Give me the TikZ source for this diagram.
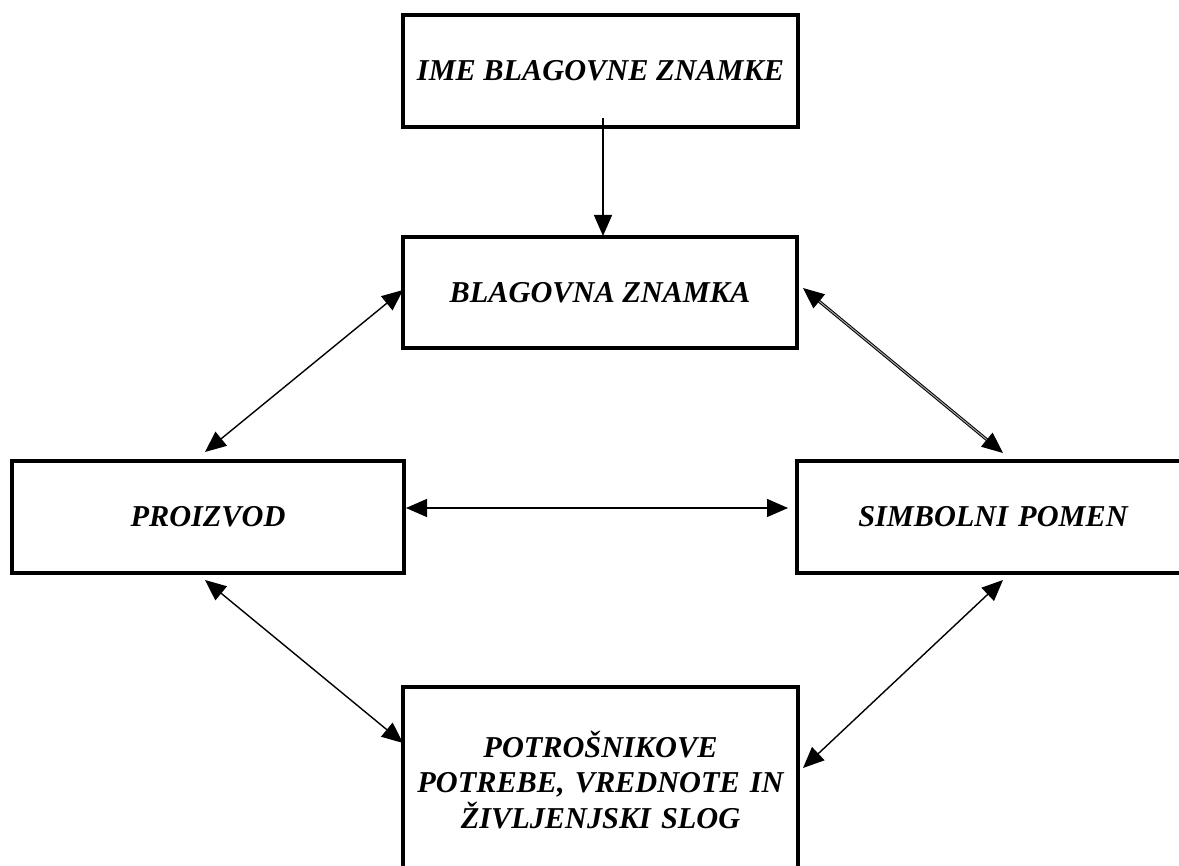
\documentclass[tikz,border=0pt]{standalone}
\usepackage{fontspec}
\setmainfont{Liberation Serif}
\usetikzlibrary{arrows.meta}
\begin{document}
\begin{tikzpicture}[x=1pt,y=-1pt,
  box/.style={draw,line width=4.2pt,inner sep=0pt,font=\fontsize{30.3}{35.5}\selectfont\bfseries\itshape,align=center},
  conn/.style={line width=1.4pt,{Triangle[length=21pt,width=18pt]}-{Triangle[length=21pt,width=18pt]}},
  oneway/.style={line width=1.4pt,-{Triangle[length=21pt,width=18pt]}},
  dconn/.style={line width=1pt,double=gray!70,double distance=1pt,{Triangle[length=21pt,width=18pt]}-{Triangle[length=21pt,width=18pt]}}]
\useasboundingbox (0,0) rectangle (1179,866);
\clip (0,0) rectangle (1179,866);
\fill[white] (0,0) rectangle (1179,866);
\node[box,minimum width=395pt,minimum height=112pt] (ime) at (600.5,71) {IME BLAGOVNE ZNAMKE};
\node[box,minimum width=394pt,minimum height=111pt] (bz) at (600,292.5) {BLAGOVNA ZNAMKA};
\node[box,minimum width=392pt,minimum height=112pt] (pr) at (208,517) {PROIZVOD};
\node[box,minimum width=392pt,minimum height=112pt,text width=392pt] (sp) at (993,517) {SIMBOLNI POMEN};
\node[box,minimum width=395pt,minimum height=186pt,text width=390pt] (pv) at (600.5,780) {POTROŠNIKOVE\\POTREBE, VREDNOTE IN\\ŽIVLJENJSKI SLOG\\[-6pt]};
\coordinate (c1) at (603,118);
\coordinate (c2) at (603,236);
\coordinate (a1) at (403,290);
\coordinate (a2) at (205,452);
\coordinate (b1) at (803,288);
\coordinate (b2) at (1003,453);
\coordinate (h1) at (406,508);
\coordinate (h2) at (788,508);
\coordinate (d1) at (205,580);
\coordinate (d2) at (403,743);
\coordinate (e1) at (803,768);
\coordinate (e2) at (1003,580);
\draw[oneway] (c1) -- (c2);
\draw[conn] (a1) -- (a2);
\draw[dconn] (b1) -- (b2);
\draw[conn] (h1) -- (h2);
\draw[conn] (d1) -- (d2);
\draw[conn] (e1) -- (e2);
\end{tikzpicture}
\end{document}
